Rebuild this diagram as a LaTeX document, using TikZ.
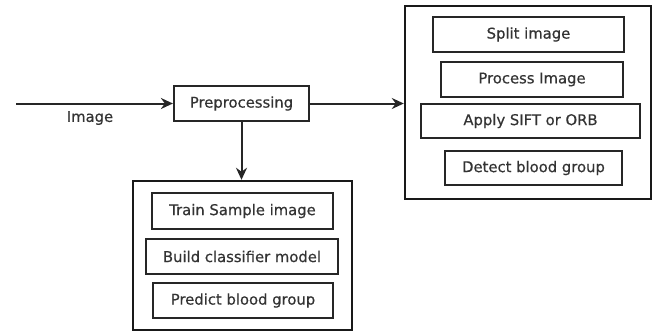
\documentclass[tikz,border=0pt]{standalone}
\usepackage{fontspec}
\setmainfont{DejaVu Sans}[BoldFont={DejaVu Sans}, BoldFeatures={FakeBold=0.5}]
\usetikzlibrary{arrows.meta}
\begin{document}
\begin{tikzpicture}[x=1pt,y=-1pt,
  lbl/.style={font=\fontsize{14.8}{16}\selectfont\bfseries, text=black!80},
  box/.style={lbl, draw=black!85, line width=2.2pt, inner sep=0pt},
  frame/.style={draw=black!90, line width=2.4pt, inner sep=0pt},
  flow/.style={line width=2pt, draw=black!85, -{Stealth[length=12pt,width=11pt]}}]
\useasboundingbox (0,0) rectangle (659,332);

% entry stage
\node[box, minimum width=135pt, minimum height=35pt] (pre) at (241.5,103.5) {Preprocessing};
\coordinate (in) at (16,103.5);
\node[lbl] (imglabel) at (90,118) {Image};

% detection group
\node[frame, minimum width=246pt, minimum height=193pt] (det) at (528,102.5) {};
\node[box, minimum width=191pt, minimum height=35pt] (split) at (528.5,34.5) {Split image};
\node[box, minimum width=182pt, minimum height=35pt] (proc) at (532,79.5) {Process Image};
\node[box, minimum width=219pt, minimum height=34pt] (sift) at (530.5,121) {Apply SIFT or ORB};
\node[box, minimum width=177pt, minimum height=34pt] (detect) at (533.5,168) {Detect blood group};

% training group
\node[frame, minimum width=219pt, minimum height=149pt] (train) at (242.5,255.5) {};
\node[box, minimum width=181pt, minimum height=36pt] (sample) at (242.5,211) {Train Sample image};
\node[box, minimum width=192pt, minimum height=35pt] (build) at (242,256.5) {Build classifier model};
\node[box, minimum width=180pt, minimum height=35pt] (predict) at (243,300.5) {Predict blood group};

% connectors
\draw[flow] (in) -- (pre.west);
\draw[flow] (pre.east) -- (pre.east -| det.west);
\draw[flow] (pre.south) -- (pre.south |- train.north);
\end{tikzpicture}
\end{document}
